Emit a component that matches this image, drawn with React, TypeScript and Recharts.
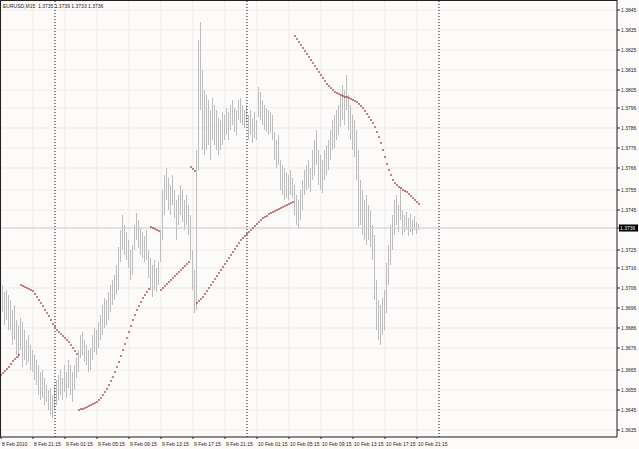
import { ComposedChart, Bar, Scatter, XAxis, YAxis, CartesianGrid, ReferenceLine } from "recharts";

// EURUSD M15 bars (high / low), one per 15 minutes starting 8 Feb 2010
const highs = [
  1.3706, 1.37075, 1.3704, 1.3705, 1.37025, 1.37, 1.3695, 1.36975, 1.369, 1.36875,
  1.3691, 1.3689, 1.3685, 1.368, 1.36825, 1.36775, 1.3675, 1.36725, 1.367, 1.36675,
  1.3664, 1.3665, 1.3661, 1.36575, 1.3655, 1.3656, 1.36525, 1.36575, 1.366, 1.36625,
  1.3665, 1.3661, 1.36675, 1.3664, 1.367, 1.36675, 1.3664, 1.36675, 1.3671, 1.3675,
  1.36825, 1.3684, 1.368, 1.36775, 1.3675, 1.3676, 1.36825, 1.3686, 1.3685, 1.3689,
  1.36925, 1.36975, 1.3701, 1.37, 1.3704, 1.37075, 1.371, 1.37125, 1.37175, 1.37265,
  1.3735, 1.37425, 1.37375, 1.3734, 1.373, 1.3725, 1.37275, 1.37375, 1.37435, 1.374,
  1.3736, 1.3734, 1.3732, 1.3735, 1.3725, 1.3721, 1.37175, 1.372, 1.3716, 1.3719,
  1.3735, 1.3755, 1.37625, 1.3766, 1.3761, 1.37575, 1.37625, 1.3755, 1.375, 1.37525,
  1.37575, 1.3755, 1.375, 1.37525, 1.37475, 1.37425, 1.3725, 1.3715, 1.3775, 1.383,
  1.3839, 1.3815, 1.3805, 1.38025, 1.38, 1.3795, 1.3801, 1.37975, 1.3795, 1.3791,
  1.379, 1.3794, 1.37925, 1.3796, 1.3794, 1.37975, 1.38, 1.3796, 1.3795, 1.38,
  1.3801, 1.37975, 1.3795, 1.37975, 1.37925, 1.3795, 1.3791, 1.3794, 1.379, 1.38065,
  1.3804, 1.38, 1.37975, 1.3796, 1.3795, 1.3794, 1.37925, 1.3784, 1.378, 1.37825,
  1.377, 1.37675, 1.3766, 1.3764, 1.37625, 1.3765, 1.3761, 1.37575, 1.37525, 1.375,
  1.3755, 1.376, 1.3765, 1.37675, 1.377, 1.3766, 1.3775, 1.378, 1.3785, 1.3775,
  1.37725, 1.377, 1.3775, 1.37775, 1.378, 1.3785, 1.379, 1.37925, 1.3795, 1.37975,
  1.38025, 1.38075, 1.3805, 1.38125, 1.38025, 1.37975, 1.37925, 1.379, 1.3785, 1.3775,
  1.376, 1.3755, 1.375, 1.37525, 1.37475, 1.3745, 1.37375, 1.37325, 1.371, 1.37,
  1.36975, 1.3701, 1.3705, 1.37185, 1.37275, 1.37375, 1.37425, 1.375, 1.37525, 1.37475,
  1.3756, 1.3745, 1.37425, 1.3744, 1.3741, 1.3743, 1.374, 1.3742, 1.3739, 1.3738,
];

const lows = [
  1.3691, 1.3694, 1.36875, 1.369, 1.3685, 1.3685, 1.36775, 1.368, 1.36725, 1.3671,
  1.3675, 1.36665, 1.367, 1.36675, 1.3669, 1.3665, 1.3664, 1.366, 1.36575, 1.36525,
  1.365, 1.3651, 1.36475, 1.3649, 1.3645, 1.36425, 1.3641, 1.3645, 1.36475, 1.365,
  1.36525, 1.365, 1.3654, 1.3651, 1.3656, 1.36525, 1.3649, 1.3655, 1.3661, 1.3664,
  1.3671, 1.36725, 1.3669, 1.36675, 1.3664, 1.3665, 1.367, 1.3674, 1.36725, 1.3676,
  1.368, 1.36825, 1.3686, 1.36875, 1.369, 1.3694, 1.36975, 1.37, 1.37025, 1.3705,
  1.3719, 1.3725, 1.37225, 1.372, 1.3716, 1.371, 1.37125, 1.3725, 1.373, 1.3726,
  1.37225, 1.3721, 1.3719, 1.372, 1.3711, 1.3705, 1.37015, 1.3705, 1.3704, 1.37075,
  1.3719, 1.373, 1.37425, 1.375, 1.3745, 1.37425, 1.37475, 1.3741, 1.373, 1.37375,
  1.37425, 1.3739, 1.3735, 1.37375, 1.37325, 1.372, 1.3705, 1.36935, 1.3695, 1.3765,
  1.3795, 1.3775, 1.37725, 1.3775, 1.37775, 1.377, 1.378, 1.37775, 1.3775, 1.37725,
  1.3775, 1.37775, 1.378, 1.37825, 1.378, 1.3785, 1.37875, 1.3784, 1.37825, 1.379,
  1.37885, 1.37875, 1.3786, 1.37885, 1.378, 1.37825, 1.37785, 1.3781, 1.378, 1.37915,
  1.379, 1.37875, 1.3785, 1.3784, 1.37825, 1.37835, 1.378, 1.377, 1.3766, 1.37675,
  1.3755, 1.37525, 1.375, 1.3751, 1.375, 1.37525, 1.3751, 1.37425, 1.37375, 1.3736,
  1.374, 1.3745, 1.37525, 1.3755, 1.3756, 1.3754, 1.376, 1.37625, 1.37675, 1.37575,
  1.3755, 1.37535, 1.376, 1.37625, 1.3765, 1.377, 1.3775, 1.3776, 1.378, 1.37825,
  1.37865, 1.379, 1.37875, 1.3795, 1.3785, 1.378, 1.3775, 1.37715, 1.376, 1.37365,
  1.37375, 1.37325, 1.373, 1.37275, 1.373, 1.37265, 1.372, 1.37, 1.3685, 1.368,
  1.36775, 1.36825, 1.3685, 1.36935, 1.37075, 1.37175, 1.3725, 1.37325, 1.37375, 1.3734,
  1.374, 1.37325, 1.3734, 1.3735, 1.3732, 1.3734, 1.37325, 1.3735, 1.3733, 1.3735,
];

// Parabolic SAR, one segment per trend
const sarUp1 = [1.36625, 1.36635, 1.36645, 1.36655, 1.36665, 1.3668, 1.36695, 1.36705, 1.36715, 1.36725];
const sarDown1 = [
  1.37075, 1.3707, 1.37065, 1.3706, 1.37055, 1.3705, 1.37045, 1.3703, 1.37015, 1.37,
  1.36985, 1.3697, 1.3695, 1.36935, 1.3692, 1.369, 1.3688, 1.36865, 1.3685, 1.3684,
  1.3683, 1.3682, 1.3681, 1.368, 1.3679, 1.36775, 1.3676, 1.36745, 1.3673,
];
const sarUp2 = [
  1.3645, 1.36455, 1.36455, 1.3646, 1.36465, 1.3647, 1.36475, 1.3648, 1.36485, 1.3649,
  1.365, 1.3651, 1.36525, 1.3654, 1.36555, 1.36575, 1.36595, 1.36615, 1.3664, 1.36665,
  1.3669, 1.3672, 1.3675, 1.3678, 1.3681, 1.3684, 1.3687, 1.369, 1.36925, 1.3695,
  1.3697, 1.3699, 1.3701, 1.37025, 1.3704, 1.37055,
];
const sarDown2 = [1.37365, 1.3736, 1.37355, 1.3735, 1.37345];
const sarUp3 = [
  1.3705, 1.3706, 1.3707, 1.3708, 1.3709, 1.371, 1.3711, 1.3712, 1.3713, 1.3714,
  1.3715, 1.3716, 1.3717, 1.3718, 1.3719,
];
const sarDown3 = [1.37665, 1.37655, 1.37645];
const sarUp4 = [
  1.36985, 1.36995, 1.37005, 1.37015, 1.3703, 1.37045, 1.3706, 1.37075, 1.3709, 1.37105,
  1.3712, 1.37135, 1.3715, 1.37165, 1.3718, 1.37195, 1.3721, 1.37225, 1.3724, 1.37255,
  1.3727, 1.37285, 1.373, 1.3731, 1.3732, 1.3733, 1.3734, 1.3735, 1.3736, 1.3737,
  1.3738, 1.3739, 1.374, 1.3741, 1.37415, 1.3742, 1.3743, 1.37435, 1.3744, 1.37445,
  1.3745, 1.37455, 1.3746, 1.37465, 1.3747, 1.37475, 1.3748, 1.37485, 1.3749,
];
const sarDown4 = [
  1.3832, 1.38305, 1.3829, 1.38275, 1.3826, 1.38245, 1.3823, 1.38215, 1.382, 1.38185,
  1.3817, 1.38155, 1.3814, 1.38125, 1.3811, 1.38095, 1.3808, 1.3807, 1.3806, 1.3805,
  1.3804, 1.38035, 1.3803, 1.38025, 1.3802, 1.38015, 1.38015, 1.3801, 1.38005, 1.38,
  1.37995, 1.3799, 1.3798, 1.3797, 1.3796, 1.37945, 1.3793, 1.37915, 1.379, 1.37885,
  1.37865, 1.3784, 1.37815, 1.37785, 1.3775, 1.37715, 1.3768, 1.3765, 1.37625, 1.376,
  1.37585, 1.37575, 1.37565, 1.3756, 1.3755, 1.37545, 1.3754, 1.3753, 1.3752, 1.3751,
  1.375, 1.3749, 1.3748,
];
const sar = [...sarUp1, ...sarDown1, ...sarUp2, ...sarDown2, ...sarUp3, ...sarDown3, ...sarUp4, ...sarDown4];

const timeLabels = [
  "8 Feb 2010", "8 Feb 21:15", "9 Feb 01:15", "9 Feb 05:15", "9 Feb 09:15", "9 Feb 13:15", "9 Feb 17:15",
  "9 Feb 21:15", "10 Feb 01:15", "10 Feb 05:15", "10 Feb 09:15", "10 Feb 13:15", "10 Feb 17:15", "10 Feb 21:15",
];
const timeTicks = timeLabels.map((_, k) => k * 16);
const dayBreaks = [27, 123, 219];

const priceTicks = [
  1.3845, 1.3835, 1.3825, 1.3815, 1.3805, 1.3796, 1.3786, 1.3776, 1.3766, 1.3755, 1.3745,
  1.3725, 1.3716, 1.3706, 1.3696, 1.3686, 1.3676, 1.3665, 1.3655, 1.3645, 1.3635,
];
const bid = 1.3736;
const header = "EURUSD,M15  1.3735 1.3739 1.3733 1.3736";

const data = highs.map((h, i) => ({ i, range: [lows[i], h], sar: sar[i] }));

const FONT = "'Liberation Sans', Arial, sans-serif";

const PriceTick = (props: any) => {
  const { x, y, payload } = props;
  if (payload.value === bid) {
    return (
      <g>
        <rect x={x - 2} y={y - 3.5} width={19} height={7} fill="#000" />
        <text x={x - 1} y={y + 1.8} fontSize={5} fontFamily={FONT} fill="#fff">{bid.toFixed(4)}</text>
      </g>
    );
  }
  return (
    <text x={x} y={y + 1.8} fontSize={5} fontFamily={FONT} fill="#222">{payload.value.toFixed(4)}</text>
  );
};

const TimeTick = (props: any) => {
  const { x, y, payload } = props;
  return (
    <text x={x + 1} y={y + 5} fontSize={5} fontFamily={FONT} fill="#222">{timeLabels[payload.value / 16]}</text>
  );
};

const SarDot = (props: any) => (
  <rect x={props.cx - 0.7} y={props.cy - 0.7} width={1.4} height={1.4} fill="#8b0a0a" />
);

export default function App() {
  return (
    <div style={{ position: "relative", width: 639, height: 449, background: "#fdfafa" }}>
      <style>{"body{margin:0}"}</style>
      <ComposedChart width={639} height={449} data={data} margin={{ top: 0, right: 0, bottom: 0, left: 0 }}>
        <CartesianGrid stroke="#f1ebeb" />
        <XAxis
          dataKey="i" type="number" domain={[-0.5, 308]} ticks={timeTicks} interval={0} allowDataOverflow
          height={12} tick={<TimeTick />} tickSize={2} tickMargin={2}
          axisLine={{ stroke: "#222" }} tickLine={{ stroke: "#222" }}
        />
        <YAxis
          orientation="right" type="number" domain={[1.36315, 1.385]} ticks={[...priceTicks, bid]} interval={0} allowDataOverflow
          width={22} tick={<PriceTick />} tickSize={3} tickMargin={1}
          axisLine={{ stroke: "#222" }} tickLine={{ stroke: "#222" }}
        />
        <ReferenceLine y={bid} stroke="#cfcfcf" />
        {dayBreaks.map((d) => (
          <ReferenceLine key={d} x={d} stroke="#111" strokeDasharray="1 2" />
        ))}
        <Bar dataKey="range" fill="#bdbdbd" barSize={1} isAnimationActive={false} />
        <Scatter dataKey="sar" shape={<SarDot />} isAnimationActive={false} />
      </ComposedChart>
      <div style={{ position: "absolute", left: 0, top: 0, width: 617, height: 437, borderLeft: "1px solid #222", borderTop: "1px solid #222", boxSizing: "border-box", pointerEvents: "none" }} />
      <div style={{ position: "absolute", left: 3, top: 3, fontSize: 5, fontFamily: FONT, color: "#222", whiteSpace: "pre", lineHeight: "6px" }}>{header}</div>
    </div>
  );
}
